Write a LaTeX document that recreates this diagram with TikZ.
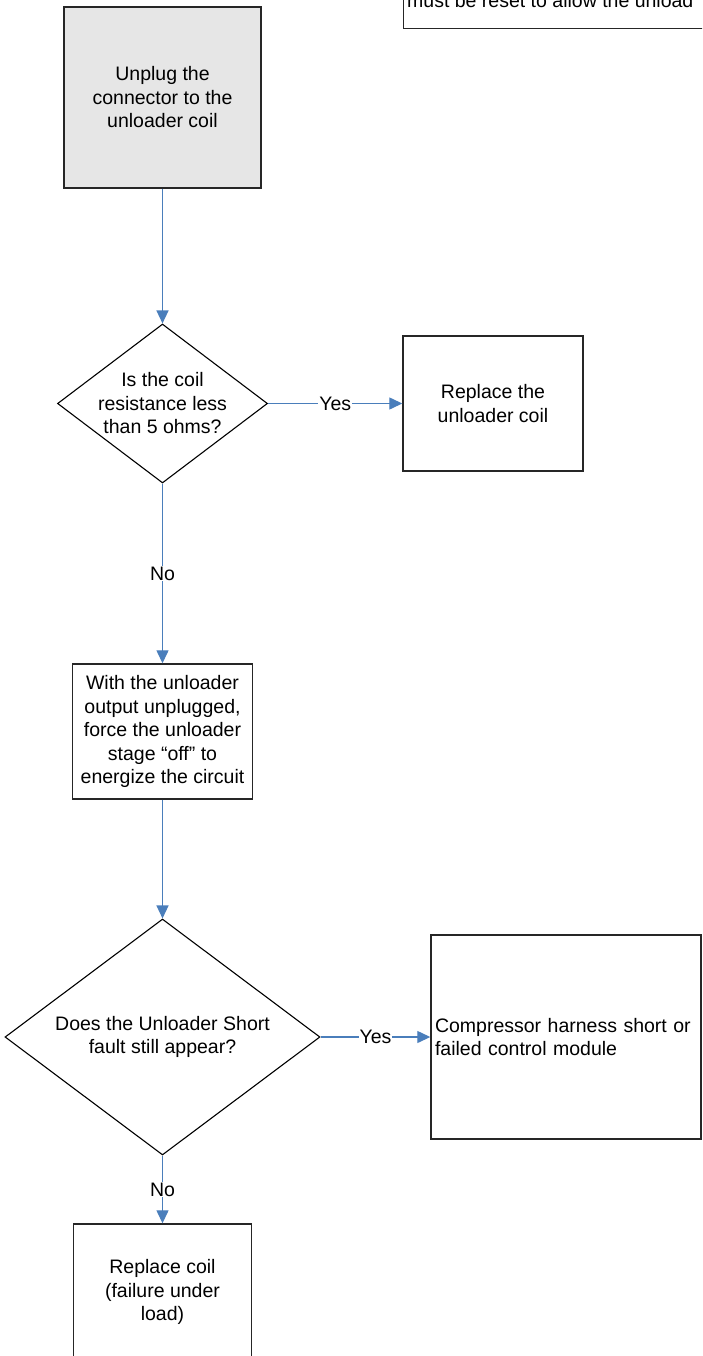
\documentclass[tikz,border=0pt]{standalone}
\usepackage{fontspec}
\setmainfont{Liberation Sans}
\usepackage{tikz}
\usetikzlibrary{arrows.meta,shapes.geometric,positioning}
\definecolor{flowblue}{RGB}{74,126,187}
\definecolor{stepgray}{RGB}{230,230,230}

\begin{document}
\begin{tikzpicture}[x=1pt,y=-1pt,
    font=\fontsize{19.5}{23.5}\selectfont,
    box/.style={draw=black!85,line width=1.4pt,rectangle,inner sep=0pt,align=center},
    dia/.style={draw=black,line width=1.1pt,diamond,inner sep=0pt},
    flow/.style={flowblue,line width=1.3pt,-{Triangle[length=13pt,width=12pt]}},
    lbl/.style={fill=white,inner sep=1pt,text=black}]
    \useasboundingbox (0,0) rectangle (702,1356);
    \clip (0,0) rectangle (702,1356);
    \node[box,minimum width=320pt,minimum height=60pt,anchor=south west] (note) at (403,29) {};
    \node[anchor=base west,inner sep=0pt] (notetxt) at (407,8) {must be reset to allow the unload};
    \node[box,fill=stepgray,minimum width=197pt,minimum height=181pt] (unplug) at (162.5,97.5) {Unplug the\\connector to the\\unloader coil};
    \node[dia,minimum width=210pt,minimum height=159pt] (coil) at (162.5,403.5) {};
    \node[align=center] (coiltxt) at (coil) {Is the coil\\resistance less\\than 5 ohms?};
    \node[box,minimum width=180pt,minimum height=135pt] (replace) at (493,403.5) {Replace the\\unloader coil};
    \node[box,minimum width=180pt,minimum height=135pt] (force) at (162.5,731.5) {With the unloader\\output unplugged,\\force the unloader\\stage “off” to\\energize the circuit};
    \node[dia,minimum width=315pt,minimum height=236pt] (fault) at (162.5,1037) {};
    \node[align=center] (faulttxt) at (fault) {Does the Unloader Short\\fault still appear?};
    \node[box,minimum width=270pt,minimum height=204pt,text width=262pt,align=left] (harness) at (566,1037) {Compressor harness short or\\failed control module};
    \node[box,minimum width=178pt,minimum height=136pt] (coil2) at (162.5,1292) {Replace coil\\(failure under\\load)};
    \draw[flow] (unplug.south) -- (coil.north);
    \draw[flow] (coil.east) -- node[lbl] (yes1) {Yes} (replace.west);
    \draw[flow] (coil.south) -- node[lbl] (no1) {No} (force.north);
    \draw[flow] (force.south) -- (fault.north);
    \draw[flow] (fault.east) -- node[lbl] (yes2) {Yes} (harness.west);
    \draw[flow] (fault.south) -- node[lbl] (no2) {No} (coil2.north);
\end{tikzpicture}
\end{document}
